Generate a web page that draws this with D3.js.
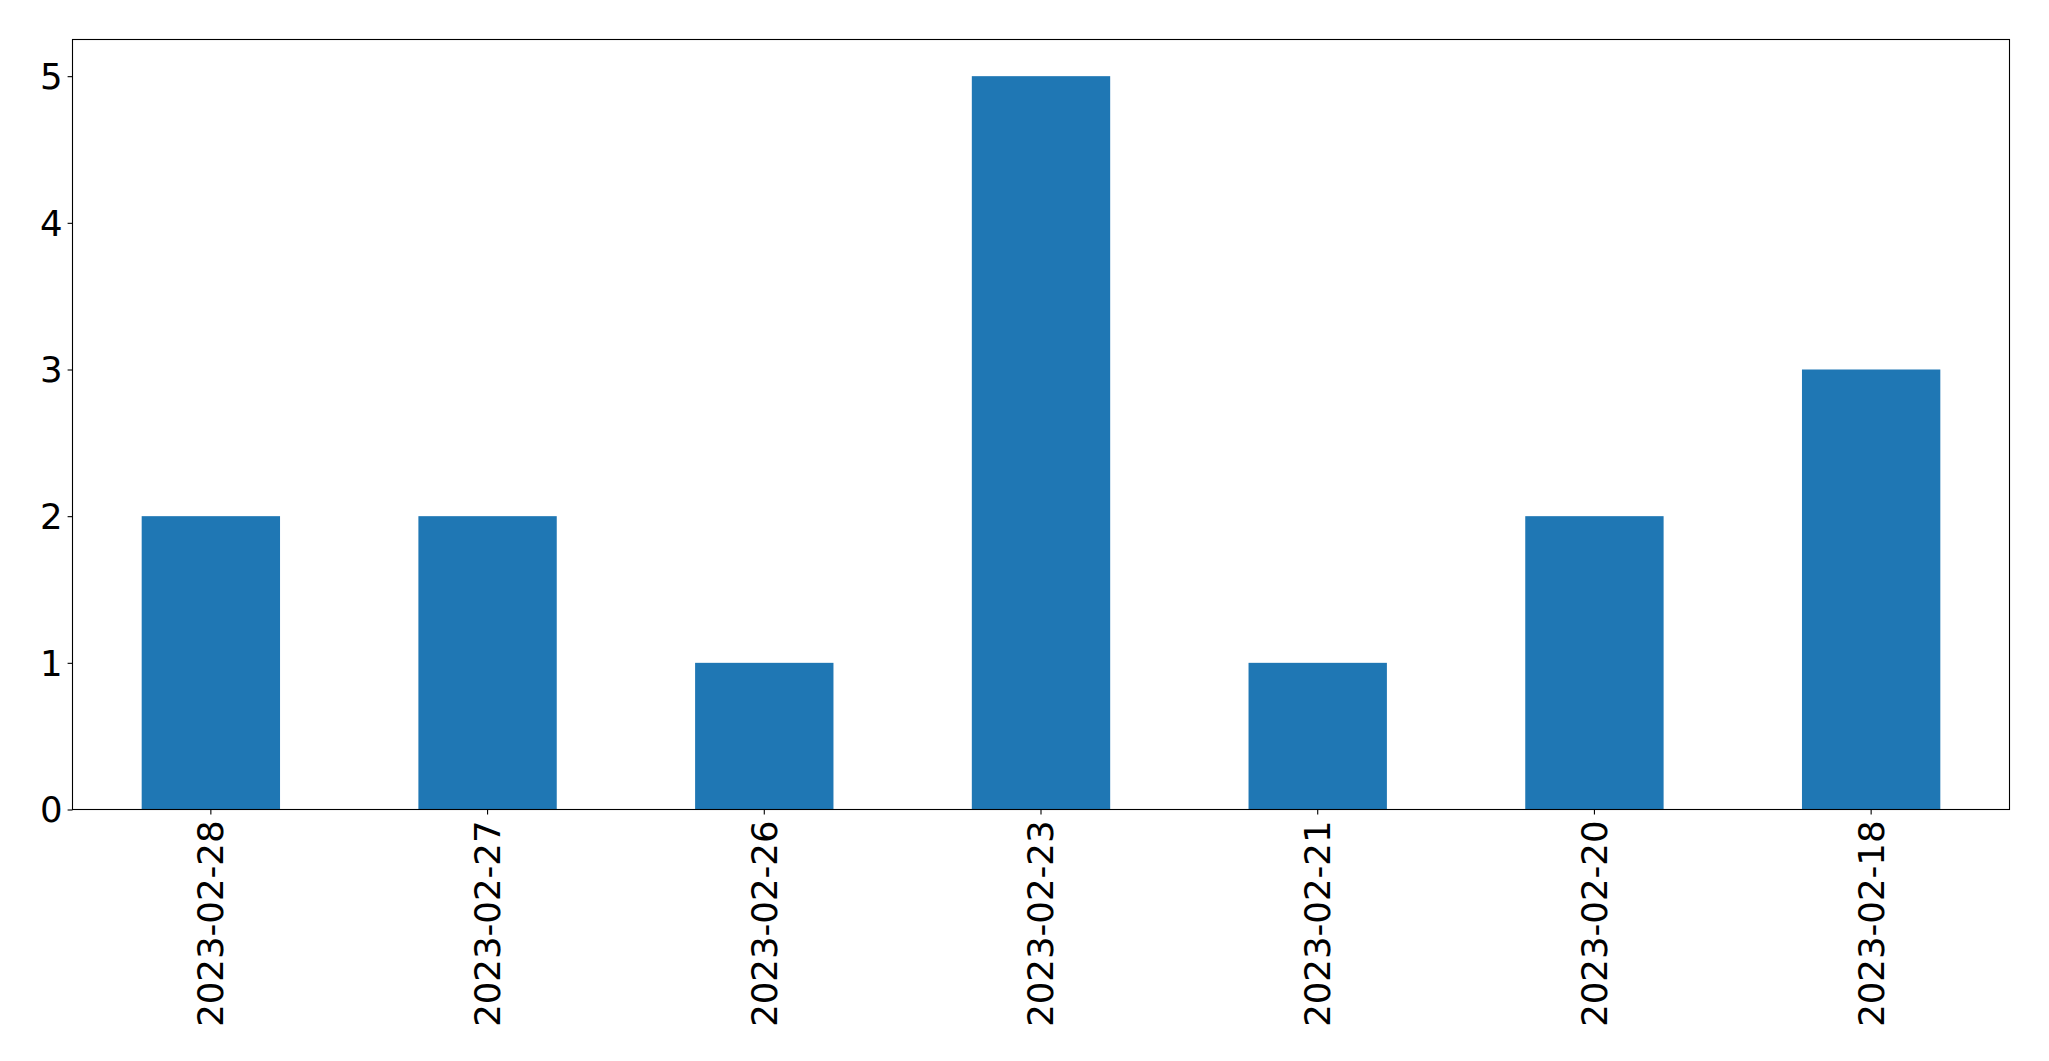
<!DOCTYPE html>
<html>
<head>
<meta charset="utf-8">
<script src="https://cdn.jsdelivr.net/npm/d3@7"></script>
<style>
html,body{margin:0;padding:0;background:#fff;}
svg{display:block;}
text{font-family:"DejaVu Sans",sans-serif;fill:#000;}
</style>
</head>
<body>
<svg id="chart" width="2049" height="1061"></svg>
<script>
const categories = ["2023-02-28","2023-02-27","2023-02-26","2023-02-23","2023-02-21","2023-02-20","2023-02-18"];
const values = [2,2,1,5,1,2,3];
const yTicks = [0,1,2,3,4,5];

const W = 2049, H = 1061;
const margin = {left:72.5, right:2009.5, top:39.5, bottom:809.5};
const fontSize = 35.5;
const svg = d3.select("#chart");
svg.append("rect").attr("width",W).attr("height",H).attr("fill","#fff");

const x = d3.scaleBand().domain(categories).range([margin.left, margin.right]).paddingInner(0.5).paddingOuter(0.25);
const y = d3.scaleLinear().domain([0, 5.25]).range([margin.bottom, margin.top]);

svg.append("g").selectAll("rect").data(values).join("rect")
  .attr("x",(d,i)=>x(categories[i]))
  .attr("width",x.bandwidth())
  .attr("y",d=>y(d))
  .attr("height",d=>y(0)-y(d))
  .attr("fill","#1f77b4");

const xAxis = svg.append("g").attr("transform",`translate(0,${margin.bottom})`)
  .call(d3.axisBottom(x).tickSize(4.9).tickPadding(4.9).tickSizeOuter(0));
xAxis.select(".domain").remove();
xAxis.selectAll("line").attr("stroke","#000").attr("stroke-width",1.1);
xAxis.selectAll("text")
  .style("font-size",fontSize+"px")
  .attr("transform","rotate(-90)")
  .attr("text-anchor","end")
  .attr("x",-11)
  .attr("y",0)
  .attr("dy","0.35em");

const yAxis = svg.append("g").attr("transform",`translate(${margin.left},0)`)
  .call(d3.axisLeft(y).tickValues(yTicks).tickFormat(d3.format("d")).tickSize(4.9).tickPadding(4.9).tickSizeOuter(0));
yAxis.select(".domain").remove();
yAxis.selectAll("line").attr("stroke","#000").attr("stroke-width",1.1);
yAxis.selectAll("text").style("font-size",fontSize+"px").attr("dy","0.35em");

svg.append("rect")
  .attr("x",margin.left).attr("y",margin.top)
  .attr("width",margin.right-margin.left).attr("height",margin.bottom-margin.top)
  .attr("fill","none").attr("stroke","#000").attr("stroke-width",1.1);
</script>
</body>
</html>
